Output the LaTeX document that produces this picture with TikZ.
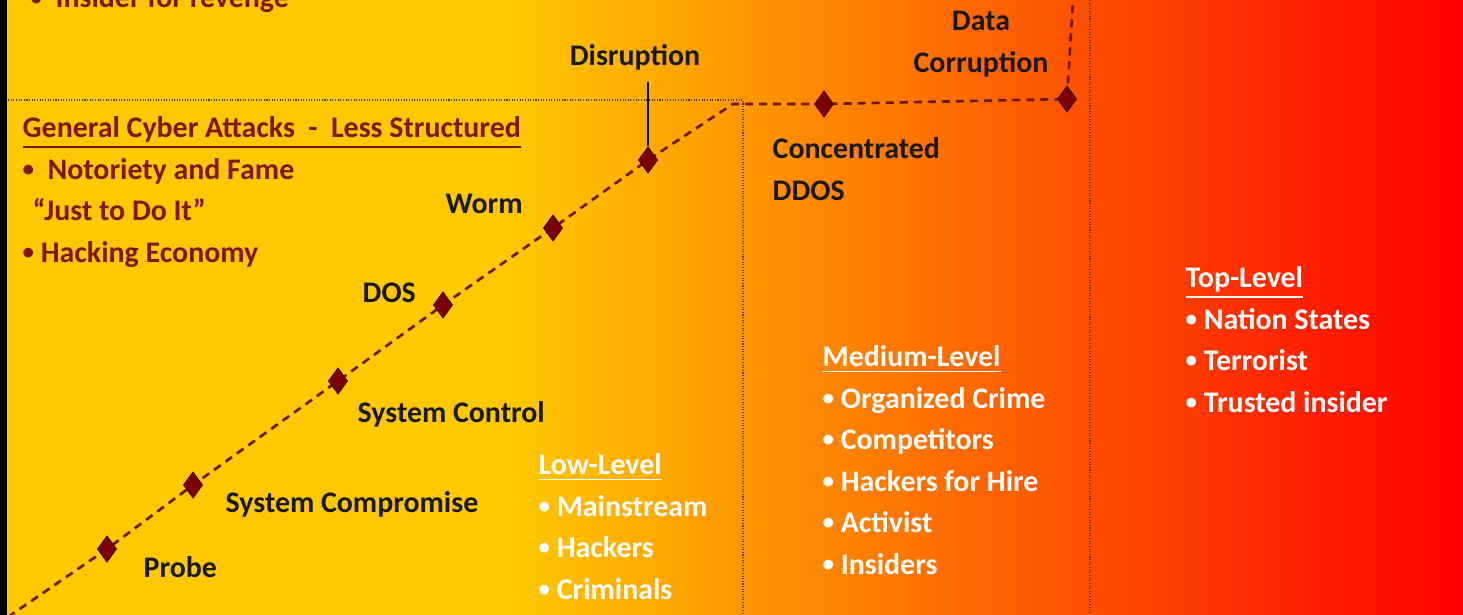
\documentclass[tikz,border=0pt]{standalone}
\usepackage{fontspec}
\setmainfont{Carlito}
\usetikzlibrary{shapes.geometric}
\definecolor{gold}{RGB}{255,200,0}
\definecolor{hotred}{RGB}{255,0,0}
\definecolor{maroon}{RGB}{128,22,22}
\definecolor{gemred}{RGB}{125,0,0}
\definecolor{trail}{RGB}{105,25,15}
\definecolor{fence}{RGB}{90,60,20}
\pgfdeclarehorizontalshading{heat}{100bp}{color(0bp)=(gold); color(42.5bp)=(gold); color(75bp)=(hotred); color(100bp)=(hotred)}
\newcommand\bul{{\fontsize{6.5}{0}\selectfont\raisebox{0.25ex}{•}}}

\begin{document}
\begin{tikzpicture}[x=0.01cm,y=-0.01cm,
  every node/.style={font=\fontsize{8.5}{11.8}\selectfont\bfseries, inner sep=0pt},
  event/.style={text=black!90},
  motive/.style={text=maroon, anchor=base west, align=left},
  tier/.style={text=white, anchor=base west, align=left},
  gem/.style={diamond, fill=gemred, draw=gemred!55!black, line width=0.3pt, minimum width=0.19cm, minimum height=0.26cm},
  trailline/.style={trail, line width=0.75pt, dash pattern=on 2.3pt off 1.7pt},
  fenceline/.style={fence, line width=0.45pt, dash pattern=on 0.3pt off 0.45pt}]
\useasboundingbox (0,0) rectangle (1463,615);
\shade[shading=heat] (0,0) rectangle (1463,615);
\fill[black] (0,0) rectangle (7,615);

% zones
\draw[fenceline] (8,100) -- (743,100) -- (743,615);
\draw[fenceline] (1090,0) -- (1090,615);

% attack steps
\coordinate (p1) at (107,549);
\coordinate (p2) at (193,485);
\coordinate (p3) at (338,381);
\coordinate (p4) at (443,305);
\coordinate (p5) at (553,228);
\coordinate (p6) at (648,160);
\coordinate (p7) at (824,104);
\coordinate (p8) at (1067,99);
\coordinate (start) at (8,617);
\coordinate (bend) at (733,104);
\coordinate (exit) at (1073,0);
\draw[trailline] (start) -- (p1) -- (p2) -- (p3) -- (p4) -- (p5) -- (p6) -- (bend) -- (p7) -- (p8) -- (exit);
\node[gem] (d1) at (p1) {};
\node[gem] (d2) at (p2) {};
\node[gem] (d3) at (p3) {};
\node[gem] (d4) at (p4) {};
\node[gem] (d5) at (p5) {};
\node[gem] (d6) at (p6) {};
\node[gem] (d7) at (p7) {};
\node[gem] (d8) at (p8) {};

\node[event, anchor=base west] (probe) at (143,577) {Probe};
\node[event, anchor=base west] (compromise) at (225,512) {System Compromise};
\node[event, anchor=base west] (control) at (357,422) {System Control};
\node[event, anchor=base west] (dos) at (362,302) {DOS};
\node[event, anchor=base west] (worm) at (445,213) {Worm};
\node[event, anchor=base] (disrupt) at (635,65) {Disruption};
\node[event, anchor=base west, align=left] (ddos) at (772,200) {Concentrated\\DDOS};
\node[event, anchor=base, align=center] (corrupt) at (981,72) {Data\\Corruption};
\draw[black, line width=0.5pt] (d6.north) -- ([yshift=-0.12cm]disrupt.south -| d6);

% motives
\node[motive] (revenge) at (30,8) {\bul~~Insider for revenge};
\node[motive] (general) at (22,262) {\underline{General Cyber Attacks~~-~~Less Structured}\\
  \bul~~Notoriety and Fame\\
  \hspace*{0.1cm}“Just to Do It”\\
  \bul{} Hacking Economy};

% actors
\node[tier] (low) at (538,599) {\underline{Low-Level}\\\bul{} Mainstream\\\bul{} Hackers\\\bul{} Criminals};
\node[tier] (medium) at (822,574) {\underline{Medium-Level}\\\bul{} Organized Crime\\\bul{} Competitors\\\bul{} Hackers for Hire\\\bul{} Activist\\\bul{} Insiders};
\node[tier] (top) at (1185,412) {\underline{Top-Level}\\\bul{} Nation States\\\bul{} Terrorist\\\bul{} Trusted insider};
\end{tikzpicture}
\end{document}
